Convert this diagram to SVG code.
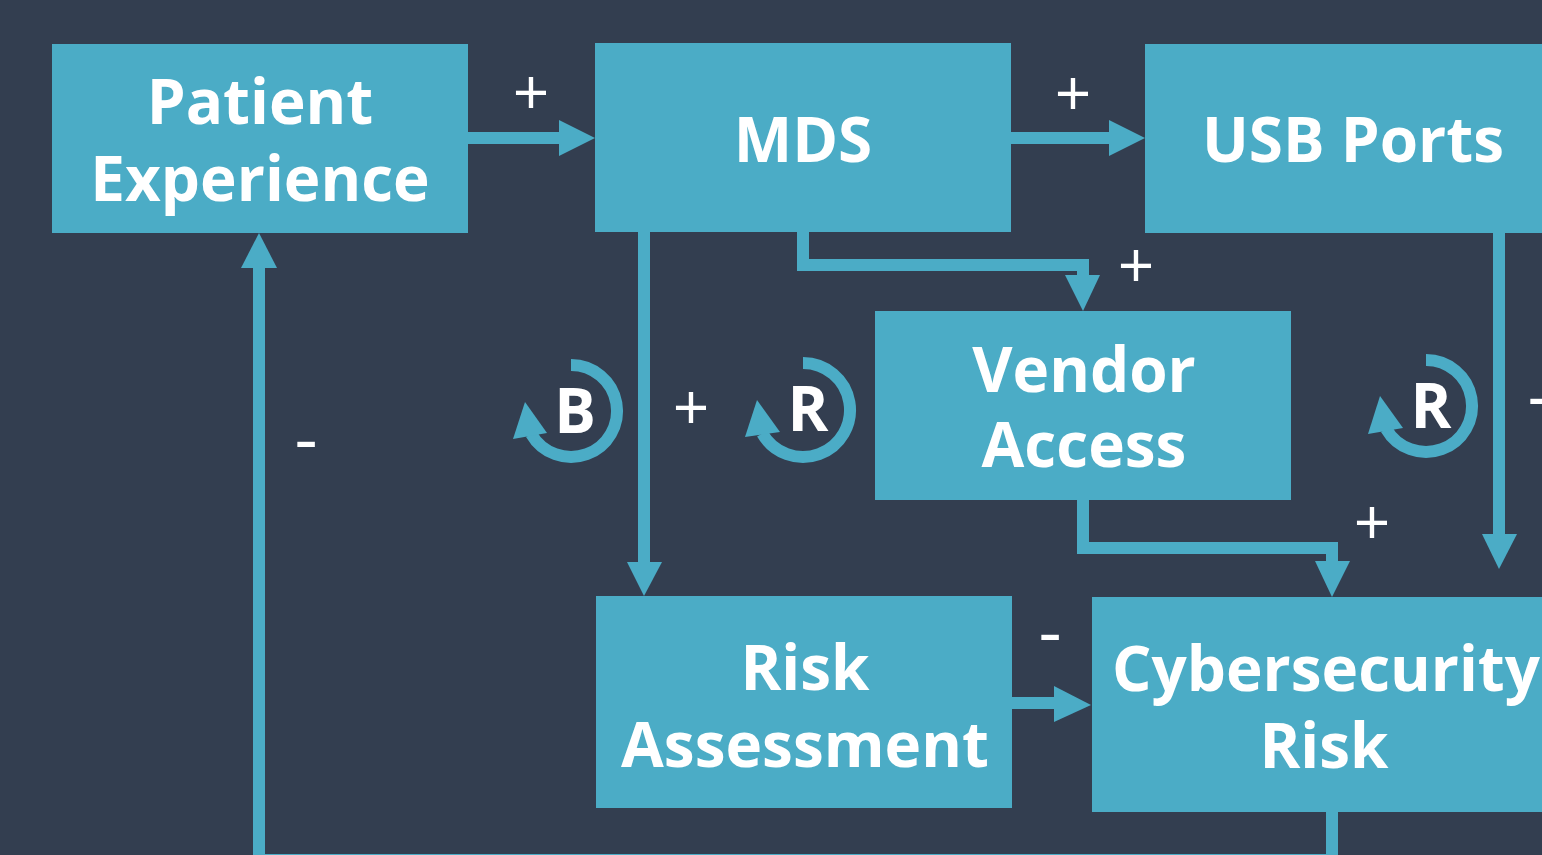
<svg xmlns="http://www.w3.org/2000/svg" width="1542" height="855" viewBox="0 0 1542 855">
<style>
.bg{fill:#333e50}
.box{fill:#4bacc6}
.lbl{font-family:"Open Sans","DejaVu Sans",sans-serif;font-weight:700;font-size:62px;fill:#ffffff;text-anchor:middle}
.loopl{font-family:"Open Sans","DejaVu Sans",sans-serif;font-weight:700;font-size:62px;fill:#ffffff;text-anchor:middle}
.sign{font-family:"Open Sans","DejaVu Sans",sans-serif;font-weight:400;font-size:64px;fill:#ffffff;text-anchor:middle}
.minus{font-family:"Open Sans","DejaVu Sans",sans-serif;font-weight:400;font-size:72px;fill:#ffffff;text-anchor:middle}
.ln{fill:none;stroke:#4bacc6;stroke-width:12}
.hd{fill:#4bacc6}
</style>
<rect class="bg" x="0" y="0" width="1542" height="855"/>
<g id="connectors">
  <line class="ln" x1="468" y1="138" x2="560" y2="138"/>
  <polygon class="hd" points="559,120 559,156 595,138"/>
  <line class="ln" x1="1011" y1="138" x2="1110" y2="138"/>
  <polygon class="hd" points="1109,120 1109,156 1145,138"/>
  <line class="ln" x1="644" y1="232" x2="644" y2="563"/>
  <polygon class="hd" points="627,562 662,562 644,596"/>
  <path class="ln" d="M803 232 V265 H1083 V276"/>
  <polygon class="hd" points="1065,275 1100,275 1083,311"/>
  <path class="ln" d="M1083 500 V548 H1332 V562"/>
  <polygon class="hd" points="1315,561 1350,561 1332,597"/>
  <line class="ln" x1="1499" y1="233" x2="1499" y2="535"/>
  <polygon class="hd" points="1482,534 1517,534 1499,569"/>
  <line class="ln" x1="1012" y1="703" x2="1055" y2="703"/>
  <polygon class="hd" points="1054,686 1054,722 1091,705"/>
  <path class="ln" d="M1332 812 V860 H259 V267"/>
  <polygon class="hd" points="241,268 277,268 259,233"/>
</g>
<g id="patient-experience">
  <rect class="box" x="52" y="44" width="416" height="189"/>
  <text class="lbl" x="260" y="124">Patient</text>
  <text class="lbl" x="260" y="201">Experience</text>
</g>
<g id="mds">
  <rect class="box" x="595" y="43" width="416" height="189"/>
  <text class="lbl" x="803" y="162">MDS</text>
</g>
<g id="usb-ports">
  <rect class="box" x="1145" y="44" width="420" height="189"/>
  <text class="lbl" x="1353" y="162">USB Ports</text>
</g>
<g id="vendor-access">
  <rect class="box" x="875" y="311" width="416" height="189"/>
  <text class="lbl" x="1084" y="392">Vendor</text>
  <text class="lbl" x="1084" y="467">Access</text>
</g>
<g id="risk-assessment">
  <rect class="box" x="596" y="596" width="416" height="212"/>
  <text class="lbl" x="805" y="690">Risk</text>
  <text class="lbl" x="805" y="767">Assessment</text>
</g>
<g id="cybersecurity-risk">
  <rect class="box" x="1092" y="597" width="470" height="215"/>
  <text class="lbl" x="1326" y="691">Cybersecurity</text>
  <text class="lbl" x="1324" y="768">Risk</text>
</g>
<g id="loop-b">
  <path class="ln" d="M571 365 A46 46 0 1 1 531.2 434"/>
  <polygon class="hd" points="525,402 513,439 547,433"/>
  <text class="loopl" x="575" y="433">B</text>
</g>
<g id="loop-r1">
  <path class="ln" d="M803 363 A47 47 0 1 1 762.3 433.5"/>
  <polygon class="hd" points="757,400 745,437 780,432"/>
  <text class="loopl" x="808" y="431">R</text>
</g>
<g id="loop-r2">
  <path class="ln" d="M1426 360 A46 46 0 1 1 1386.2 429"/>
  <polygon class="hd" points="1380,396 1368,434 1403,428"/>
  <text class="loopl" x="1431" y="428">R</text>
</g>
<g id="polarity">
  <text class="sign" x="531" y="115">+</text>
  <text class="sign" x="1073" y="116">+</text>
  <text class="sign" x="1136" y="288">+</text>
  <text class="sign" x="691" y="430">+</text>
  <text class="sign" x="1372" y="545">+</text>
  <text class="minus" x="306" y="464">-</text>
  <text class="minus" x="1050" y="657">-</text>
  <text class="minus" x="1539" y="421">-</text>
</g>
</svg>
